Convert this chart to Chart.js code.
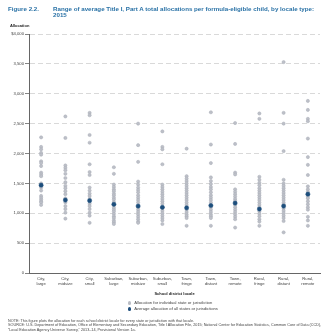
<!DOCTYPE html>
<html>
<head>
<meta charset="utf-8">
<script src="https://cdn.jsdelivr.net/npm/chart.js@4/dist/chart.umd.min.js"></script>
<style>
  body { margin: 0; background: #fff; font-family: "Liberation Sans", Arial, sans-serif; }
  #wrap { position: relative; width: 329px; height: 335px; overflow: hidden; }
  #chart { position: absolute; left: 0; top: 0; }
  .txt { position: absolute; white-space: nowrap; }
  .title { color: #2a72a6; font-weight: bold; font-size: 6.2px; line-height: 6.4px; }
  .alloc { left: 10px; top: 22.5px; font-size: 4px; font-weight: bold; color: #222; }
  .leg { left: 127.5px; font-size: 4.15px; color: #444; }
  .leg i { display: inline-block; width: 3.2px; height: 3.2px; border-radius: 50%; margin-right: 3.5px; vertical-align: middle; }
  .note { left: 8px; font-size: 3.75px; color: #444; }
</style>
</head>
<body>
<div id="wrap">
  <canvas id="chart" width="329" height="335"></canvas>
  <div class="txt title" style="left:8px; top:6px;">Figure 2.2.</div>
  <div class="txt title" style="left:53px; top:6px;">Range of average Title I, Part A total allocations per formula-eligible child, by locale type:<br>2015</div>
  <div class="txt alloc">Allocation</div>
  <div class="txt leg" style="top:300px;"><i style="background:#b9bcc4;"></i>Allocation for individual state or jurisdiction</div>
  <div class="txt leg" style="top:306px;"><i style="background:#1d4e7c;"></i>Average allocation of all states or jurisdictions</div>
  <div class="txt note" style="top:318.5px;">NOTE: This figure plots the allocation for each school district locale for every state or jurisdiction with that locale.</div>
  <div class="txt note" style="top:323px;">SOURCE: U.S. Department of Education, Office of Elementary and Secondary Education, Title I Allocation File, 2015; National Center for Education Statistics, Common Core of Data (CCD),</div>
  <div class="txt note" style="top:327.5px;">“Local Education Agency Universe Survey,” 2013–14, Provisional Version 1a.</div>
</div>
<script>
const locales = [
  ['City,', 'large'], ['City,', 'midsize'], ['City,', 'small'],
  ['Suburban,', 'large'], ['Suburban,', 'midsize'], ['Suburban,', 'small'],
  ['Town,', 'fringe'], ['Town,', 'distant'], ['Town,', 'remote'],
  ['Rural,', 'fringe'], ['Rural,', 'distant'], ['Rural,', 'remote']
];

const cityLarge = [2270, 2110, 2070, 2010, 1980, 1870, 1840, 1790, 1680, 1650, 1620, 1500, 1460, 1430, 1380, 1290, 1260, 1230, 1200, 1180, 1140];
const cityMidsize = [2620, 2260, 1800, 1760, 1720, 1660, 1590, 1520, 1460, 1420, 1370, 1320, 1250, 1180, 1120, 1070, 1010, 910];
const citySmall = [2680, 2640, 2310, 2180, 1820, 1690, 1640, 1430, 1380, 1330, 1290, 1240, 1160, 1120, 1070, 1010, 960, 840];
const suburbanLarge = [1770, 1660, 1480, 1440, 1400, 1370, 1330, 1300, 1260, 1230, 1190, 1130, 1090, 1060, 1030, 990, 950, 920, 880, 850, 820];
const suburbanMidsize = [2500, 2140, 1860, 1530, 1480, 1430, 1390, 1350, 1300, 1260, 1220, 1180, 1100, 1060, 1020, 980, 940, 900, 860, 840];
const suburbanSmall = [2370, 2110, 2070, 1820, 1480, 1440, 1400, 1360, 1320, 1280, 1240, 1200, 1160, 1080, 1040, 1000, 960, 920, 880, 820];
const townFringe = [2080, 1620, 1580, 1540, 1500, 1460, 1420, 1380, 1340, 1300, 1260, 1220, 1180, 1140, 1060, 1020, 980, 950, 920, 790];
const townDistant = [2690, 2150, 1840, 1600, 1540, 1490, 1440, 1400, 1350, 1300, 1260, 1220, 1180, 1100, 1060, 1020, 980, 950, 920, 790];
const townRemote = [2510, 2160, 1680, 1650, 1400, 1360, 1320, 1280, 1240, 1210, 1140, 1100, 1060, 1020, 980, 940, 900, 760];
const ruralFringe = [2670, 2580, 1610, 1560, 1510, 1470, 1420, 1380, 1340, 1300, 1260, 1220, 1180, 1140, 1100, 1030, 990, 950, 900, 860, 790];
const ruralDistant = [3530, 2680, 2500, 2040, 1560, 1500, 1460, 1420, 1380, 1340, 1300, 1260, 1220, 1180, 1150, 1080, 1040, 1000, 960, 920, 870, 680];
const ruralRemote = [2880, 2730, 2580, 2540, 2250, 1940, 1810, 1640, 1450, 1400, 1360, 1280, 1250, 1200, 1150, 1100, 1060, 940, 880, 790];

const averages = [1470, 1220, 1210, 1150, 1120, 1100, 1090, 1130, 1170, 1070, 1120, 1320];

const yTicks = [0, 500, 1000, 1500, 2000, 2500, 3000, 3500, 4000];

const columns = [cityLarge, cityMidsize, citySmall, suburbanLarge, suburbanMidsize, suburbanSmall,
  townFringe, townDistant, townRemote, ruralFringe, ruralDistant, ruralRemote];

// x uses the same label array reference so the category scale finds it
let statePoints = [];
columns.forEach(function(col, i){
  col.forEach(function(v){ statePoints.push({x: locales[i], y: v}); });
});
let avgPoints = averages.map(function(v, i){ return {x: locales[i], y: v}; });

const tickFont = {family: '"Liberation Sans", Arial, sans-serif', size: 4.2};

new Chart(document.getElementById('chart'), {
  type: 'line',
  data: {
    labels: locales,
    datasets: [{
      label: 'Average allocation of all states or jurisdictions',
      data: avgPoints,
      showLine: false,
      pointRadius: 2.1,
      pointBackgroundColor: '#1d4e7c',
      pointBorderColor: '#1d4e7c',
      pointBorderWidth: 0.5,
      order: 0
    }, {
      label: 'Allocation for individual state or jurisdiction',
      data: statePoints,
      showLine: false,
      pointRadius: 1.6,
      pointBackgroundColor: '#bdc0c8',
      pointBorderColor: '#a9adb7',
      pointBorderWidth: 0.5,
      order: 1
    }]
  },
  options: {
    responsive: false,
    animation: false,
    events: [],
    layout: {padding: {left: 0, right: 9, top: 34, bottom: 39}},
    plugins: {legend: {display: false}, tooltip: {enabled: false}},
    scales: {
      x: {
        type: 'category',
        offset: true,
        grid: {display: false, drawTicks: false},
        border: {display: true, color: '#666', width: 1},
        ticks: {font: Object.assign({lineHeight: 1.4}, tickFont), color: '#444', padding: 2.5, maxRotation: 0, autoSkip: false},
        title: {display: true, text: 'School district locale', color: '#222',
                font: {family: '"Liberation Sans", Arial, sans-serif', size: 4, weight: 'bold'},
                padding: {top: 0, bottom: 0}},
        afterFit: function(scale){ scale.height = 23; }
      },
      y: {
        min: 0,
        max: 4000,
        afterBuildTicks: function(scale){ scale.ticks = yTicks.map(function(v){ return {value: v}; }); },
        grid: {color: '#cfcfcf', lineWidth: 0.8, tickLength: 4, tickColor: '#666', tickBorderDash: [],
               drawOnChartArea: true},
        border: {display: true, color: '#666', width: 1, dash: [5, 3]},
        ticks: {font: tickFont, color: '#444', padding: 1,
                callback: function(v){ return v === 4000 ? '$4,000' : v.toLocaleString('en-US'); }},
        afterFit: function(scale){ scale.width = 29; }
      }
    }
  }
});
</script>
</body>
</html>
